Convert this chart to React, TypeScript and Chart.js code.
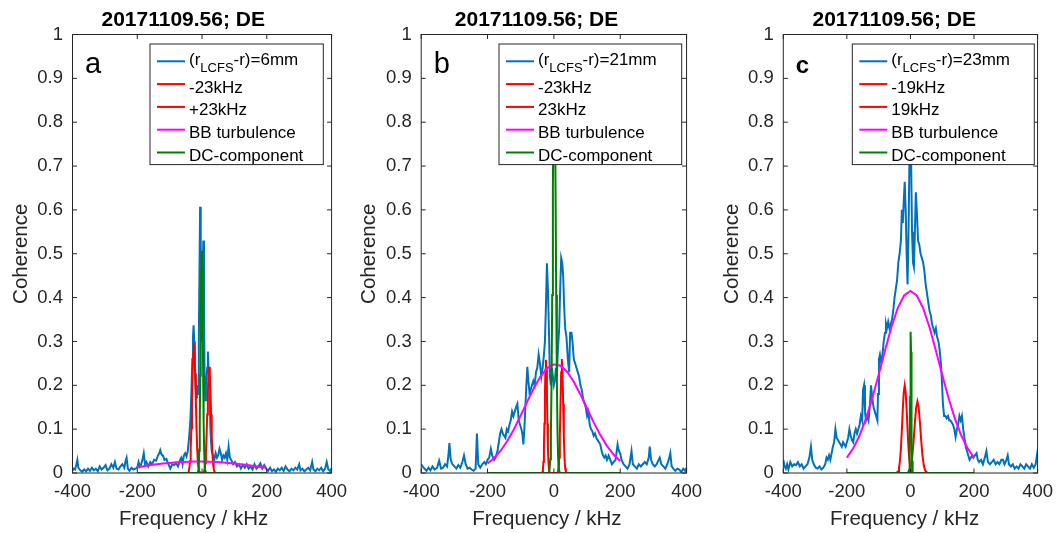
import React, { useEffect, useRef } from 'react';
import { Chart, registerables } from 'chart.js';

Chart.register(...registerables);

type Pt = [number, number];

// ---------------- shared text / ticks ----------------
const TITLE = '20171109.56; DE';
const X_LABEL = 'Frequency / kHz';
const Y_LABEL = 'Coherence';
const X_TICKS = [-400, -200, 0, 200, 400];
const Y_TICKS = [0, 0.1, 0.2, 0.3, 0.4, 0.5, 0.6, 0.7, 0.8, 0.9, 1];

// ---------------- panel a data ----------------
const blueA: Pt[] = [
  [-400, 0.005], [-396, 0.01], [-392, 0.008], [-388, 0.02], [-385, 0.03], [-382, 0.012], [-376, 0.006], [-370, 0.003],
  [-364, 0.008], [-358, 0.004], [-352, 0.01], [-346, 0.005], [-340, 0.012], [-334, 0.006], [-328, 0.01], [-322, 0.004],
  [-316, 0.015], [-310, 0.008], [-304, 0.012], [-298, 0.018], [-292, 0.006], [-286, 0.01], [-280, 0.02], [-274, 0.012],
  [-269, 0.025], [-264, 0.01], [-258, 0.008], [-252, 0.015], [-246, 0.02], [-240, 0.012], [-236, 0.028], [-233, 0.035],
  [-229, 0.01], [-224, 0.005], [-218, 0.012], [-212, 0.008], [-206, 0.01], [-200, 0.012], [-196, 0.025], [-192, 0.015],
  [-188, 0.02], [-184, 0.03], [-180, 0.045], [-176, 0.02], [-172, 0.025], [-166, 0.015], [-160, 0.025], [-154, 0.02],
  [-148, 0.03], [-142, 0.028], [-136, 0.04], [-132, 0.045], [-129, 0.052], [-125, 0.042], [-121, 0.04], [-116, 0.03],
  [-110, 0.032], [-104, 0.02], [-98, 0.01], [-92, 0.02], [-86, 0.018], [-80, 0.022], [-74, 0.015], [-68, 0.03],
  [-64, 0.035], [-60, 0.02], [-56, 0.04], [-52, 0.045], [-48, 0.038], [-44, 0.05], [-40, 0.08], [-36, 0.12],
  [-33, 0.18], [-30, 0.26], [-28, 0.31], [-26, 0.337], [-24, 0.3], [-22, 0.24], [-20, 0.197], [-18, 0.18],
  [-16, 0.17], [-14, 0.2], [-12, 0.18], [-10, 0.3], [-8, 0.45], [-6, 0.607], [-4, 0.45], [-2, 0.3],
  [0, 0.35], [2, 0.47], [4, 0.53], [6, 0.4], [8, 0.2], [10, 0.166], [12, 0.2], [14, 0.22],
  [16, 0.24], [18, 0.277], [20, 0.24], [22, 0.22], [24, 0.16], [26, 0.1], [28, 0.07], [30, 0.05],
  [34, 0.04], [38, 0.03], [42, 0.045], [46, 0.035], [50, 0.04], [54, 0.055], [58, 0.045], [62, 0.03],
  [66, 0.04], [70, 0.035], [74, 0.045], [78, 0.03], [82, 0.06], [86, 0.035], [90, 0.03], [96, 0.02],
  [102, 0.025], [108, 0.015], [114, 0.02], [120, 0.01], [126, 0.018], [132, 0.012], [138, 0.02], [144, 0.01],
  [150, 0.015], [156, 0.008], [162, 0.02], [168, 0.01], [174, 0.015], [180, 0.022], [186, 0.01], [192, 0.018],
  [198, 0.01], [204, 0.005], [210, 0.012], [216, 0.004], [222, 0.008], [228, 0.003], [234, 0.01], [240, 0.006],
  [246, 0.012], [252, 0.005], [258, 0.015], [264, 0.008], [270, 0.004], [276, 0.01], [282, 0.006], [288, 0.012],
  [294, 0.008], [300, 0.02], [304, 0.006], [310, 0.01], [316, 0.004], [322, 0.008], [328, 0.012], [334, 0.006],
  [340, 0.025], [344, 0.008], [350, 0.004], [356, 0.01], [362, 0.006], [368, 0.012], [374, 0.004], [380, 0.01],
  [385, 0.025], [390, 0.008], [396, 0.004], [400, 0.012],
];
const redA1: Pt[] = [
  [-200, 0], [-45, 0], [-43, 0.0014], [-41, 0.0043], [-39, 0.0115], [-37, 0.027], [-35, 0.056], [-33, 0.102],
  [-31, 0.163], [-29, 0.227], [-27, 0.276], [-25, 0.295], [-23, 0.276], [-21, 0.227], [-19, 0.163], [-17, 0.102],
  [-15, 0.056], [-13, 0.027], [-11, 0.0115], [-9, 0.0043], [-7, 0.0014], [-5, 0], [200, 0],
];
const redA2: Pt[] = [
  [-200, 0], [2, 0], [4, 0.0011], [6, 0.0035], [8, 0.0094], [10, 0.0223], [12, 0.0462], [14, 0.084],
  [16, 0.1336], [18, 0.186], [20, 0.2265], [22, 0.242], [24, 0.2265], [26, 0.186], [28, 0.1336], [30, 0.084],
  [32, 0.0462], [34, 0.0223], [36, 0.0094], [38, 0.0035], [40, 0.0011], [42, 0], [200, 0],
];
const bbA: Pt[] = [
  [-200, 0.013], [-180, 0.0155], [-160, 0.018], [-140, 0.02], [-120, 0.0215], [-100, 0.023], [-80, 0.0243],
  [-60, 0.0252], [-40, 0.0258], [-20, 0.026], [0, 0.026], [20, 0.0258], [40, 0.0252], [60, 0.0243], [80, 0.023],
  [100, 0.0215], [120, 0.02], [140, 0.018], [160, 0.0158], [180, 0.0138], [200, 0.012],
];
const dcA: Pt[] = [
  [-200, 0], [-14, 0], [-13, 0.0015], [-11.5, 0.0056], [-10, 0.019], [-8.5, 0.051], [-7, 0.117], [-5.5, 0.222],
  [-4, 0.351], [-2.5, 0.462], [-1, 0.507], [0.5, 0.462], [2, 0.351], [3.5, 0.222], [5, 0.117], [6.5, 0.051],
  [8, 0.019], [9.5, 0.0056], [11, 0.0015], [12, 0], [200, 0],
];

// ---------------- panel b data ----------------
const blueB: Pt[] = [
  [-400, 0.02], [-396, 0.015], [-390, 0.01], [-384, 0.005], [-378, 0.012], [-372, 0.006], [-366, 0.015], [-360, 0.008],
  [-352, 0.012], [-346, 0.028], [-340, 0.01], [-334, 0.012], [-328, 0.02], [-322, 0.015], [-318, 0.04], [-315, 0.068],
  [-311, 0.03], [-306, 0.02], [-300, 0.015], [-294, 0.01], [-288, 0.018], [-282, 0.012], [-276, 0.025], [-271, 0.04],
  [-266, 0.02], [-260, 0.01], [-254, 0.012], [-248, 0.008], [-242, 0.005], [-236, 0.01], [-232, 0.09], [-228, 0.02],
  [-222, 0.012], [-216, 0.02], [-210, 0.025], [-205, 0.02], [-200, 0.03], [-195, 0.035], [-190, 0.055], [-186, 0.04],
  [-180, 0.03], [-176, 0.035], [-170, 0.05], [-166, 0.07], [-162, 0.09], [-158, 0.1], [-154, 0.09], [-150, 0.085],
  [-146, 0.08], [-142, 0.1], [-138, 0.095], [-134, 0.11], [-130, 0.12], [-126, 0.14], [-122, 0.13], [-118, 0.14],
  [-114, 0.15], [-110, 0.158], [-106, 0.12], [-102, 0.11], [-98, 0.1], [-95, 0.09], [-92, 0.065], [-89, 0.1],
  [-86, 0.15], [-83, 0.2], [-80, 0.242], [-77, 0.21], [-73, 0.18], [-70, 0.19], [-66, 0.2], [-62, 0.21],
  [-58, 0.2], [-54, 0.23], [-50, 0.24], [-46, 0.27], [-42, 0.25], [-38, 0.22], [-34, 0.24], [-30, 0.27],
  [-27, 0.3], [-24, 0.38], [-21, 0.478], [-18, 0.42], [-15, 0.33], [-12, 0.22], [-9, 0.2], [-6, 0.24],
  [-3, 0.22], [0, 0.2], [3, 0.21], [6, 0.24], [9, 0.22], [12, 0.28], [16, 0.33], [19, 0.42],
  [22, 0.49], [25, 0.48], [28, 0.45], [31, 0.38], [34, 0.33], [38, 0.31], [42, 0.26], [46, 0.23],
  [49, 0.32], [53, 0.32], [56, 0.3], [60, 0.26], [64, 0.25], [68, 0.24], [72, 0.23], [76, 0.22],
  [80, 0.2], [84, 0.19], [88, 0.17], [92, 0.16], [96, 0.15], [100, 0.13], [104, 0.14], [108, 0.11],
  [112, 0.1], [116, 0.095], [120, 0.085], [124, 0.09], [128, 0.08], [132, 0.075], [136, 0.07], [140, 0.065],
  [144, 0.05], [148, 0.04], [152, 0.035], [156, 0.04], [160, 0.03], [165, 0.04], [170, 0.03], [175, 0.02],
  [180, 0.025], [186, 0.03], [192, 0.065], [196, 0.05], [200, 0.045], [204, 0.03], [210, 0.02], [216, 0.015],
  [222, 0.01], [228, 0.02], [234, 0.05], [238, 0.02], [244, 0.015], [250, 0.01], [256, 0.02], [262, 0.015],
  [268, 0.02], [274, 0.025], [280, 0.02], [286, 0.035], [289, 0.06], [293, 0.03], [298, 0.02], [304, 0.015],
  [310, 0.02], [316, 0.03], [319, 0.035], [324, 0.02], [330, 0.015], [336, 0.01], [342, 0.02], [348, 0.035],
  [351, 0.045], [355, 0.015], [360, 0.01], [366, 0.005], [372, 0.01], [378, 0.008], [384, 0.002], [390, 0.01],
  [396, 0.005], [400, 0.012],
];
const redB1: Pt[] = [
  [-200, 0], [-37, 0], [-36, 0.0008], [-34.5, 0.0028], [-33, 0.0095], [-31.5, 0.0258], [-30, 0.0593], [-28.5, 0.113],
  [-27, 0.1788], [-25.5, 0.2353], [-24, 0.258], [-22.5, 0.2353], [-21, 0.1788], [-19.5, 0.113], [-18, 0.0593],
  [-16.5, 0.0258], [-15, 0.0095], [-13.5, 0.0028], [-12, 0.0008], [-11, 0], [200, 0],
];
const redB2: Pt[] = [
  [-200, 0], [9, 0], [10, 0.0006], [12, 0.0029], [14, 0.0114], [16, 0.0352], [18, 0.0844], [20, 0.1577],
  [22, 0.2295], [24, 0.26], [26, 0.2295], [28, 0.1577], [30, 0.0844], [32, 0.0352], [34, 0.0114], [36, 0.0029],
  [38, 0.0006], [39, 0], [200, 0],
];
const bbB: Pt[] = [
  [-200, 0.0218], [-180, 0.0343], [-160, 0.0514], [-140, 0.0736], [-120, 0.1005], [-100, 0.1311], [-80, 0.1633],
  [-60, 0.1943], [-40, 0.2206], [-20, 0.2392], [0, 0.2477], [20, 0.2448], [40, 0.231], [60, 0.2082], [80, 0.1792],
  [100, 0.1472], [120, 0.1155], [140, 0.0865], [160, 0.0619], [180, 0.0422], [200, 0.0275],
];
const dcB: Pt[] = [
  [-200, 0], [-17, 0], [-15, 0.0023], [-13, 0.0092], [-11, 0.0314], [-9, 0.0893], [-7, 0.209], [-5, 0.4057],
  [-3, 0.651], [-1, 0.8645], [1, 0.95], [3, 0.8645], [5, 0.651], [7, 0.4057], [9, 0.209], [11, 0.0893],
  [13, 0.0314], [15, 0.0092], [17, 0.0023], [19, 0], [200, 0],
];

// ---------------- panel c data ----------------
const blueC: Pt[] = [
  [-400, 0.03], [-396, 0.015], [-392, 0.01], [-388, 0.02], [-384, 0.008], [-378, 0.025], [-372, 0.015], [-366, 0.02],
  [-360, 0.018], [-354, 0.025], [-348, 0.015], [-342, 0.02], [-336, 0.01], [-330, 0.015], [-324, 0.02], [-318, 0.035],
  [-313, 0.06], [-309, 0.03], [-304, 0.02], [-298, 0.012], [-292, 0.01], [-286, 0.015], [-280, 0.008], [-274, 0.012],
  [-268, 0.02], [-264, 0.035], [-260, 0.03], [-256, 0.04], [-252, 0.03], [-248, 0.045], [-244, 0.06], [-240, 0.07],
  [-236, 0.1], [-232, 0.08], [-228, 0.075], [-224, 0.07], [-220, 0.065], [-216, 0.06], [-212, 0.07], [-208, 0.065],
  [-204, 0.06], [-200, 0.07], [-196, 0.08], [-192, 0.1], [-188, 0.085], [-184, 0.075], [-180, 0.07], [-176, 0.09],
  [-172, 0.1], [-168, 0.09], [-164, 0.1], [-160, 0.11], [-156, 0.13], [-152, 0.12], [-149, 0.19], [-146, 0.2],
  [-143, 0.14], [-140, 0.12], [-136, 0.13], [-132, 0.12], [-128, 0.15], [-124, 0.2], [-120, 0.17], [-116, 0.15],
  [-112, 0.14], [-108, 0.13], [-104, 0.12], [-102, 0.18], [-99, 0.26], [-96, 0.27], [-92, 0.25], [-88, 0.27],
  [-84, 0.3], [-80, 0.32], [-77, 0.34], [-74, 0.33], [-70, 0.345], [-66, 0.33], [-62, 0.34], [-58, 0.35],
  [-54, 0.37], [-50, 0.4], [-46, 0.42], [-42, 0.44], [-38, 0.48], [-34, 0.5], [-30, 0.53], [-27, 0.6],
  [-24, 0.57], [-21, 0.62], [-18, 0.664], [-15, 0.6], [-12, 0.5], [-9, 0.43], [-6, 0.55], [-3, 0.72],
  [-1, 0.78], [2, 0.72], [5, 0.55], [8, 0.48], [11, 0.47], [14, 0.55], [17, 0.64], [20, 0.6],
  [24, 0.53], [28, 0.52], [32, 0.5], [36, 0.49], [40, 0.48], [44, 0.46], [48, 0.43], [52, 0.41],
  [56, 0.39], [60, 0.37], [64, 0.36], [68, 0.34], [72, 0.33], [76, 0.32], [80, 0.33], [84, 0.31],
  [88, 0.3], [92, 0.28], [96, 0.25], [99, 0.21], [102, 0.16], [106, 0.13], [110, 0.13], [114, 0.125],
  [118, 0.13], [122, 0.12], [126, 0.12], [130, 0.115], [134, 0.11], [138, 0.1], [142, 0.082], [146, 0.1],
  [150, 0.11], [154, 0.13], [158, 0.12], [162, 0.13], [166, 0.1], [170, 0.08], [174, 0.06], [178, 0.05],
  [182, 0.04], [186, 0.03], [190, 0.035], [194, 0.04], [198, 0.035], [203, 0.04], [208, 0.045], [212, 0.03],
  [216, 0.025], [222, 0.03], [228, 0.02], [234, 0.035], [239, 0.05], [244, 0.025], [250, 0.02], [256, 0.025],
  [262, 0.03], [268, 0.02], [274, 0.025], [280, 0.02], [286, 0.03], [291, 0.03], [296, 0.02], [302, 0.03],
  [306, 0.04], [310, 0.02], [316, 0.015], [322, 0.02], [328, 0.01], [334, 0.015], [340, 0.01], [346, 0.02],
  [352, 0.015], [358, 0.01], [364, 0.02], [370, 0.015], [376, 0.01], [382, 0.02], [388, 0.012], [394, 0.02],
  [398, 0.04], [400, 0.03],
];
const redC1: Pt[] = [
  [-200, 0], [-46, 0], [-42, 0.0012], [-39, 0.004], [-36, 0.0112], [-33, 0.027], [-30, 0.0556], [-27, 0.0974],
  [-24, 0.1452], [-21, 0.1846], [-18, 0.2], [-15, 0.1846], [-12, 0.1452], [-9, 0.0974], [-6, 0.0556], [-3, 0.027],
  [0, 0.0112], [3, 0.004], [6, 0.0012], [9, 0], [200, 0],
];
const redC2: Pt[] = [
  [-200, 0], [-14, 0], [-10, 0.0006], [-6, 0.0021], [-2, 0.0067], [2, 0.0176], [6, 0.0393], [10, 0.0732],
  [14, 0.1143], [18, 0.1491], [22, 0.163], [26, 0.1491], [30, 0.1143], [34, 0.0732], [38, 0.0393], [42, 0.0176],
  [46, 0.0067], [50, 0.0021], [54, 0.0006], [58, 0], [200, 0],
];
const bbC: Pt[] = [
  [-200, 0.0352], [-180, 0.0562], [-160, 0.0854], [-140, 0.1238], [-120, 0.1706], [-100, 0.2239], [-80, 0.2795],
  [-60, 0.3323], [-40, 0.376], [-20, 0.4049], [0, 0.415], [20, 0.4049], [40, 0.376], [60, 0.3323], [80, 0.2795],
  [100, 0.2239], [120, 0.1706], [140, 0.1238], [160, 0.0854], [180, 0.0562], [200, 0.0352],
];
const dcC: Pt[] = [
  [-200, 0], [-6, 0], [-5, 0.0013], [-4, 0.0068], [-3, 0.0274], [-2, 0.0802], [-1, 0.1736], [0, 0.276],
  [1, 0.322], [2, 0.276], [3, 0.1736], [4, 0.0802], [5, 0.0274], [6, 0.0068], [7, 0.0013], [8, 0], [200, 0],
];

// ---------------- legends ----------------
const legendA = ['-r)=6mm', '-23kHz', '+23kHz', 'BB turbulence', 'DC-component'];
const legendB = ['-r)=21mm', '-23kHz', '23kHz', 'BB turbulence', 'DC-component'];
const legendC = ['-r)=23mm', '-19kHz', '19kHz', 'BB turbulence', 'DC-component'];

// ---------------- styling ----------------
const FONT = '"Liberation Sans", Arial, Helvetica, sans-serif';
const BLUE = '#0072BD';
const RED = '#FF0000';
const MAGENTA = '#FF00FF';
const GREEN = '#008000';
const AXIS = '#262626';
const SERIES_COLORS = [BLUE, RED, RED, MAGENTA, GREEN];

type PanelDef = {
  key: string;
  canvasLeft: number;
  canvasWidth: number;
  axisLeft: number;
  axisRight: number;
  legendLeft: number;
  legendRight: number;
  letter: string;
  letterFont: string;
  series: Pt[][];
  legend: string[];
};

const PANELS: PanelDef[] = [
  { key: 'a', canvasLeft: 0, canvasWidth: 355, axisLeft: 72.5, axisRight: 332.7, legendLeft: 150, legendRight: 323.3,
    letter: 'a', letterFont: `29px ${FONT}`, series: [blueA, redA1, redA2, bbA, dcA], legend: legendA },
  { key: 'b', canvasLeft: 350, canvasWidth: 360, axisLeft: 421.2, axisRight: 690.7, legendLeft: 499, legendRight: 681.7,
    letter: 'b', letterFont: `29px ${FONT}`, series: [blueB, redB1, redB2, bbB, dcB], legend: legendB },
  { key: 'c', canvasLeft: 706, canvasWidth: 355, axisLeft: 783.3, axisRight: 1044, legendLeft: 852.3, legendRight: 1034.3,
    letter: 'c', letterFont: `bold 24px ${FONT}`, series: [blueC, redC1, redC2, bbC, dcC], legend: legendC },
];

const TOP = 34.5;
const BOTTOM = 473;
const H = 533;

function Panel({ def }: { def: PanelDef }) {
  const ref = useRef<HTMLCanvasElement>(null);

  useEffect(() => {
    const canvas = ref.current!;
    const off = def.canvasLeft;
    const overlay = {
      id: 'overlay_' + def.key,
      afterDatasetsDraw(chart: any) {
        const ctx: CanvasRenderingContext2D = chart.ctx;
        const a = chart.chartArea;
        const xs = chart.scales.x;
        const ys = chart.scales.y;
        ctx.save();
        // box
        ctx.strokeStyle = AXIS;
        ctx.lineWidth = 1;
        ctx.strokeRect(a.left, a.top, a.right - a.left, a.bottom - a.top);
        // inward ticks
        const tl = 4.5;
        ctx.beginPath();
        X_TICKS.forEach((t) => {
          const px = xs.getPixelForValue(t);
          ctx.moveTo(px, a.bottom); ctx.lineTo(px, a.bottom - tl);
          ctx.moveTo(px, a.top); ctx.lineTo(px, a.top + tl);
        });
        Y_TICKS.forEach((t) => {
          const py = ys.getPixelForValue(t);
          ctx.moveTo(a.left, py); ctx.lineTo(a.left + tl, py);
          ctx.moveTo(a.right, py); ctx.lineTo(a.right - tl, py);
        });
        ctx.stroke();

        // legend
        const lx = def.legendLeft - off;
        const lr = def.legendRight - off;
        const lt = 44;
        const lb = 164.6;
        ctx.fillStyle = '#ffffff';
        ctx.fillRect(lx, lt, lr - lx, lb - lt);
        ctx.strokeStyle = AXIS;
        ctx.lineWidth = 1;
        ctx.strokeRect(lx, lt, lr - lx, lb - lt);
        const rows = [61.3, 84.1, 106.9, 129.7, 152.5];
        rows.forEach((ry, i) => {
          ctx.strokeStyle = SERIES_COLORS[i];
          ctx.lineWidth = 2;
          ctx.beginPath();
          ctx.moveTo(lx + 7, ry);
          ctx.lineTo(lx + 35, ry);
          ctx.stroke();
          ctx.fillStyle = '#000';
          ctx.textAlign = 'left';
          ctx.textBaseline = 'alphabetic';
          const tx = lx + 39;
          if (i === 0) {
            ctx.font = `17px ${FONT}`;
            ctx.fillText('(r', tx, ry + 4);
            const w1 = ctx.measureText('(r').width;
            ctx.font = `13px ${FONT}`;
            ctx.fillText('LCFS', tx + w1, ry + 11);
            const w2 = ctx.measureText('LCFS').width;
            ctx.font = `17px ${FONT}`;
            ctx.fillText(def.legend[0], tx + w1 + w2, ry + 4);
          } else {
            ctx.font = `17px ${FONT}`;
            ctx.fillText(def.legend[i], tx, ry + 8.5);
          }
        });

        // panel letter
        ctx.fillStyle = '#000';
        ctx.font = def.letterFont;
        ctx.textAlign = 'left';
        ctx.fillText(def.letter, def.axisLeft - off + 12.5, 72.5);

        // title
        const cx = (def.axisLeft + def.axisRight) / 2 - off;
        ctx.font = `bold 21px ${FONT}`;
        ctx.textAlign = 'center';
        ctx.fillText(TITLE, cx - 19.4, 26.3);

        // x label
        ctx.fillStyle = AXIS;
        ctx.font = `20.5px ${FONT}`;
        ctx.fillText(X_LABEL, cx - 9, 525);

        // y label
        ctx.save();
        ctx.translate(def.axisLeft - off - 45.8, (TOP + BOTTOM) / 2);
        ctx.rotate(-Math.PI / 2);
        ctx.font = `20.5px ${FONT}`;
        ctx.textAlign = 'center';
        ctx.fillText(Y_LABEL, 0, 0);
        ctx.restore();

        ctx.restore();
      },
    };

    const widths = [2, 2, 2, 2, 2];
    const orders = [4, 3, 2, 1, 0];
    const datasets = def.series.map((s, i) => ({
      label: 'series' + i,
      data: s.map(([x, y]) => ({ x, y })),
      borderColor: SERIES_COLORS[i],
      backgroundColor: SERIES_COLORS[i],
      borderWidth: widths[i],
      pointRadius: 0,
      tension: 0,
      fill: false,
      order: orders[i],
    }));

    const chart = new Chart(canvas, {
      type: 'line',
      data: { datasets },
      options: {
        responsive: false,
        maintainAspectRatio: false,
        animation: false,
        events: [],
        layout: {
          padding: {
            left: 0,
            top: TOP,
            bottom: 0,
            right: def.canvasWidth - (def.axisRight - def.canvasLeft),
          },
        },
        plugins: {
          legend: { display: false },
          tooltip: { enabled: false },
          title: { display: false },
        },
        scales: {
          x: {
            type: 'linear',
            min: -400,
            max: 400,
            grid: { display: false, drawTicks: false },
            border: { display: false },
            ticks: {
              stepSize: 200,
              autoSkip: false,
              maxRotation: 0,
              padding: 8,
              color: AXIS,
              font: { family: FONT, size: 18.5 },
              callback: (v: any) => String(v),
            },
            afterFit: (s: any) => { s.height = H - BOTTOM; },
          },
          y: {
            type: 'linear',
            min: 0,
            max: 1,
            grid: { display: false, drawTicks: false },
            border: { display: false },
            ticks: {
              stepSize: 0.1,
              autoSkip: false,
              padding: 9.5,
              color: AXIS,
              font: { family: FONT, size: 18.5 },
              callback: (v: any) => String(Math.round(Number(v) * 10) / 10),
            },
            afterFit: (s: any) => { s.width = def.axisLeft - def.canvasLeft; },
          },
        },
      } as any,
      plugins: [overlay],
    });
    return () => chart.destroy();
  }, [def]);

  return (
    <canvas
      ref={ref}
      width={def.canvasWidth}
      height={H}
      style={{ position: 'absolute', left: def.canvasLeft, top: 0, width: def.canvasWidth, height: H }}
    />
  );
}

export default function App() {
  return (
    <div style={{ position: 'fixed', left: 0, top: 0, width: 1061, height: 533, background: '#ffffff', overflow: 'hidden' }}>
      {PANELS.map((p) => (
        <Panel key={p.key} def={p} />
      ))}
    </div>
  );
}
